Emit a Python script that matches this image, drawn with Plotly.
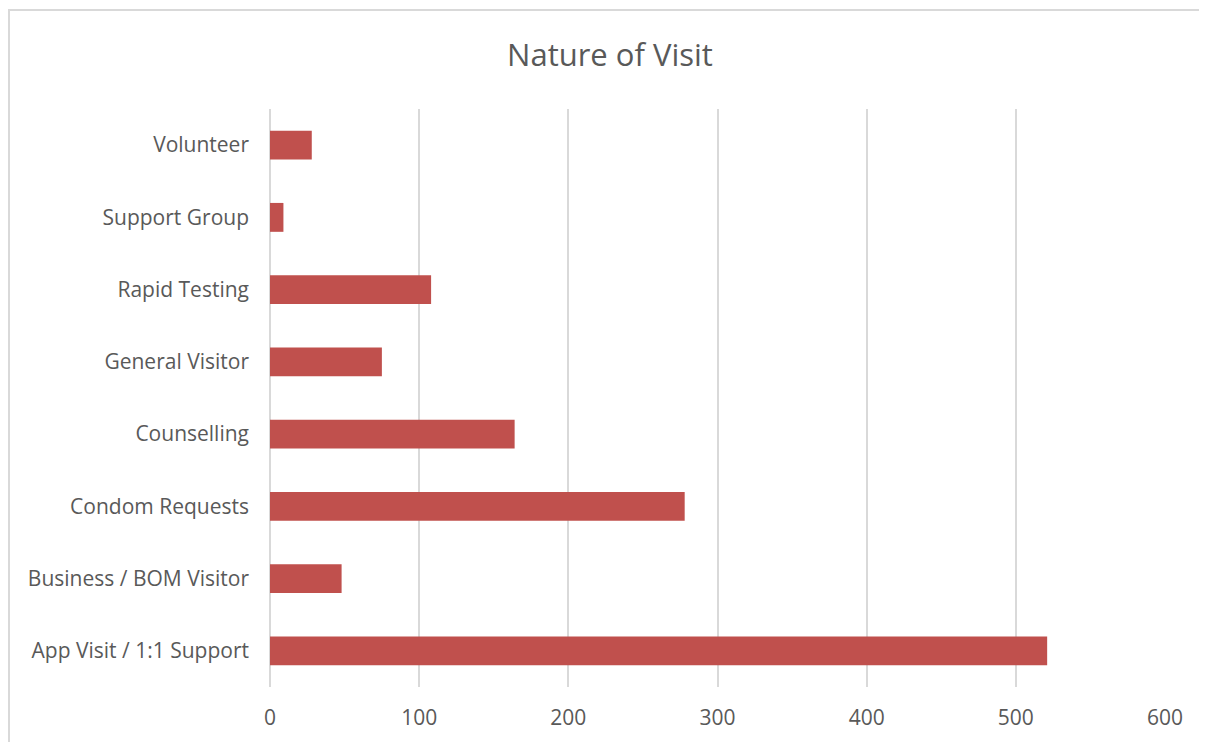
import plotly.graph_objects as go

categories = ["App Visit / 1:1 Support", "Business / BOM Visitor", "Condom Requests",
              "Counselling", "General Visitor", "Rapid Testing", "Support Group", "Volunteer"]
values = [521, 48, 278, 164, 75, 108, 9, 28]
x_ticks = [0, 100, 200, 300, 400, 500, 600]

FONT = "Open Sans"
GRAY = "#595959"

fig = go.Figure(go.Bar(
    y=categories, x=values, orientation="h",
    marker=dict(color="#c0504d", line=dict(width=0)),
))

# page has an 8px body margin, so figure coords = viewport coords - 8
W, H = 1207, 742
L, R, T, B = 262, 50, 101, 63
pw, ph = W - L - R, H - T - B

fig.update_layout(
    width=W, height=H,
    margin=dict(l=L, r=R, t=T, b=B),
    paper_bgcolor="white", plot_bgcolor="white",
    title=dict(text="Nature of Visit", x=(610 - 8) / W, xref="container", xanchor="center",
               y=1 - 47 / H, yref="container", yanchor="middle",
               font=dict(family=FONT, size=31, color=GRAY)),
    bargap=0.6,
    showlegend=False,
    font=dict(family=FONT, color=GRAY),
)
fig.update_xaxes(range=[0, 600], tickvals=x_ticks, showgrid=True, gridcolor="#d9d9d9",
                 gridwidth=1.5, zeroline=True, zerolinecolor="#d9d9d9", zerolinewidth=1.5,
                 showline=False, ticks="", ticklabelstandoff=16,
                 tickfont=dict(family=FONT, size=21, color=GRAY))
fig.update_yaxes(categoryorder="array", categoryarray=categories, showgrid=False,
                 zeroline=False, showline=False, ticks="", ticklabelstandoff=20,
                 tickfont=dict(family=FONT, size=21, color=GRAY))

# outer chart border (decorative)
fig.add_shape(type="line", xref="paper", yref="paper",
              x0=(0 - L) / pw, x1=(W - L) / pw, y0=(H - B - 2) / ph, y1=(H - B - 2) / ph,
              line=dict(color="#d9d9d9", width=2))
fig.add_shape(type="line", xref="paper", yref="paper",
              x0=(1 - L) / pw, x1=(1 - L) / pw, y0=(H - B - 2) / ph, y1=-(B) / ph,
              line=dict(color="#d9d9d9", width=2))

fig.write_html("out.html")
